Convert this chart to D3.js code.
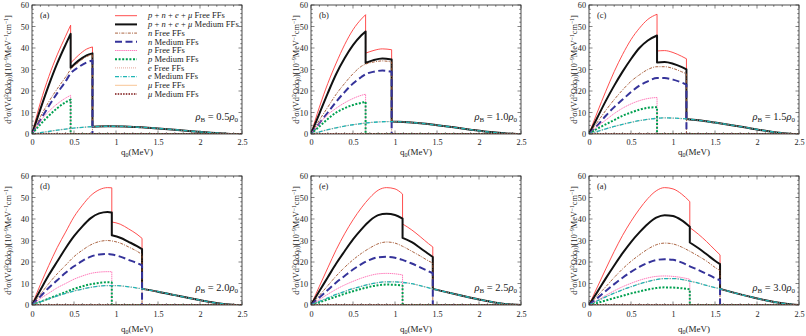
<!DOCTYPE html>
<html>
<head>
<meta charset="utf-8">
<script src="https://cdn.jsdelivr.net/npm/d3@7"></script>
<style>
  body { margin: 0; background: #fff; }
  svg { display: block; font-family: "Liberation Serif", "DejaVu Serif", serif; }
</style>
</head>
<body>
<svg id="chart" width="806" height="336"></svg>
<script>
// tick values and panel texts
const qTicks = [0, 0.5, 1, 1.5, 2, 2.5];
const yTicks = [0, 10, 20, 30, 40, 50, 60];
const panelTags = ['(a)', '(b)', '(c)', '(d)', '(e)', '(a)'];
const rhoValues = ['0.5', '1.0', '1.5', '2.0', '2.5', '3.0'];

// p + n + e + mu, free form factors (one list of [q0, value] per panel)
const totFree = [
  [[0,0],[0.1,14.6],[0.2,26.7],[0.3,36.8],[0.4,45.5],[0.46,50.6],[0.46,33],[0.55,36.5],[0.65,39.5],[0.72,40.5],[0.72,3.4],[0.9,3.6],[1.1,3.5],[1.3,3.1],[1.5,2.6],[1.7,2.0],[1.9,1.3],[2.1,0.7],[2.3,0.2],[2.45,0],[2.5,0]],
  [[0,0],[0.1,12.5],[0.2,23.5],[0.3,33],[0.4,41.5],[0.5,48.5],[0.6,53.5],[0.65,55.5],[0.65,37.6],[0.75,38.9],[0.85,39.6],[0.96,39.2],[0.96,5.8],[1.1,5.6],[1.3,5],[1.5,4.1],[1.7,3.1],[1.9,2],[2.1,1],[2.3,0.3],[2.45,0],[2.5,0]],
  [[0,0],[0.1,10.2],[0.2,19.9],[0.3,29],[0.4,37],[0.5,43.9],[0.6,49.2],[0.7,53.3],[0.81,55.7],[0.81,38.6],[0.9,38.8],[1.0,37.9],[1.1,36.2],[1.16,35],[1.16,7],[1.3,6.4],[1.5,5.3],[1.7,4.1],[1.9,2.8],[2.1,1.5],[2.3,0.4],[2.45,0],[2.5,0]],
  [[0,0],[0.1,9.5],[0.2,18.4],[0.3,26.7],[0.4,33.9],[0.5,41],[0.6,46.4],[0.7,50.9],[0.8,53.6],[0.9,54.6],[0.95,54.5],[0.95,38.6],[1.05,37.6],[1.15,35.4],[1.25,32.9],[1.31,31],[1.31,7.5],[1.5,6.2],[1.7,4.6],[1.9,3],[2.1,1.5],[2.3,0.4],[2.45,0],[2.5,0]],
  [[0,0],[0.1,8.7],[0.2,17.3],[0.3,25.7],[0.4,33.1],[0.5,39.6],[0.6,45.2],[0.7,49.9],[0.8,53.4],[0.9,54.6],[1.0,54],[1.09,51.6],[1.09,37.7],[1.2,34.9],[1.3,31.8],[1.4,28.5],[1.45,27],[1.45,7.5],[1.6,6.1],[1.8,4.3],[2.0,2.6],[2.2,1.1],[2.35,0.3],[2.5,0]],
  [[0,0],[0.1,8.4],[0.2,16.8],[0.3,24.9],[0.4,32.4],[0.5,38.9],[0.6,44.6],[0.7,49.5],[0.8,53.1],[0.9,54.6],[1.0,54],[1.1,51.7],[1.2,48.1],[1.2,36],[1.3,33],[1.4,29.5],[1.5,25.6],[1.56,23.3],[1.56,7.5],[1.7,6],[1.9,4],[2.1,2.2],[2.3,0.8],[2.45,0.1],[2.5,0]]
];

// p + n + e + mu, medium modified form factors
const totMed = [
  [[0,0],[0.1,11.6],[0.2,22.7],[0.3,32.8],[0.4,41.6],[0.46,46.6],[0.46,30.8],[0.55,34],[0.65,36.6],[0.72,37.5],[0.72,3.4],[0.9,3.6],[1.1,3.5],[1.3,3.1],[1.5,2.6],[1.7,2.0],[1.9,1.3],[2.1,0.7],[2.3,0.2],[2.45,0],[2.5,0]],
  [[0,0],[0.1,9.5],[0.2,19],[0.3,27.9],[0.4,35.2],[0.5,41.3],[0.6,45.9],[0.65,47.7],[0.65,33],[0.75,34.4],[0.85,35.1],[0.96,34.7],[0.96,5.8],[1.1,5.6],[1.3,5],[1.5,4.1],[1.7,3.1],[1.9,2],[2.1,1],[2.3,0.3],[2.45,0],[2.5,0]],
  [[0,0],[0.1,7.7],[0.2,15.4],[0.3,22.5],[0.4,29],[0.5,34.9],[0.6,40],[0.7,43.5],[0.81,45.8],[0.81,33.3],[0.9,33.5],[1.0,32.7],[1.1,31.2],[1.16,30],[1.16,7],[1.3,6.4],[1.5,5.3],[1.7,4.1],[1.9,2.8],[2.1,1.5],[2.3,0.4],[2.45,0],[2.5,0]],
  [[0,0],[0.1,7],[0.2,13.9],[0.3,20.2],[0.4,26.4],[0.5,32],[0.6,36.6],[0.7,40.4],[0.8,42.6],[0.9,43.3],[0.95,43],[0.95,32.4],[1.05,31.3],[1.15,29.4],[1.25,27.4],[1.31,26],[1.31,7.5],[1.5,6.2],[1.7,4.6],[1.9,3],[2.1,1.5],[2.3,0.4],[2.45,0],[2.5,0]],
  [[0,0],[0.1,6.5],[0.2,12.9],[0.3,19.3],[0.4,25],[0.5,30.5],[0.6,35.2],[0.7,39.2],[0.8,41.8],[0.9,42.4],[1.0,41.9],[1.09,40.2],[1.09,31.2],[1.2,29.2],[1.3,26.5],[1.4,23.7],[1.45,22.3],[1.45,7.5],[1.6,6.1],[1.8,4.3],[2.0,2.6],[2.2,1.1],[2.35,0.3],[2.5,0]],
  [[0,0],[0.1,6.1],[0.2,12.4],[0.3,18.4],[0.4,24.1],[0.5,29.3],[0.6,33.8],[0.7,37.7],[0.8,40.6],[0.9,41.8],[1.0,41.4],[1.1,39.5],[1.2,36.4],[1.2,29.1],[1.3,26.5],[1.4,23.6],[1.5,20.6],[1.56,19],[1.56,7.5],[1.7,6],[1.9,4],[2.1,2.2],[2.3,0.8],[2.45,0.1],[2.5,0]]
];

// neutron contribution, free / medium
const nFree = [
  [[0,0],[0.1,8],[0.2,15],[0.3,21],[0.4,26.5],[0.46,30],[0.55,33.2],[0.65,36],[0.72,37],[0.72,0],[2.5,0]],
  [[0,0],[0.1,6.5],[0.2,12.5],[0.3,18.5],[0.4,23.5],[0.5,28],[0.6,31.5],[0.65,32.5],[0.75,33.5],[0.85,34],[0.96,33.5],[0.96,0],[2.5,0]],
  [[0,0],[0.1,5.5],[0.2,11],[0.3,16],[0.4,20.5],[0.5,24.5],[0.6,27.5],[0.7,30],[0.81,31.3],[0.9,31.3],[1.0,30.5],[1.1,29],[1.16,28],[1.16,0],[2.5,0]],
  [[0,0],[0.1,5],[0.2,10],[0.3,14.5],[0.4,18.5],[0.5,22.5],[0.6,25.5],[0.7,28],[0.8,29.5],[0.9,30],[0.95,29.8],[1.05,28.8],[1.15,27],[1.25,25],[1.31,23.5],[1.31,0],[2.5,0]],
  [[0,0],[0.1,4.5],[0.2,9],[0.3,13.5],[0.4,17.5],[0.5,21],[0.6,24],[0.7,26.5],[0.8,28.5],[0.9,29.3],[1.0,28.8],[1.09,27.3],[1.2,25],[1.3,22.8],[1.4,20.5],[1.45,19.5],[1.45,0],[2.5,0]],
  [[0,0],[0.1,4.3],[0.2,8.5],[0.3,12.8],[0.4,16.8],[0.5,20.3],[0.6,23.3],[0.7,26],[0.8,28],[0.9,28.8],[1.0,28.4],[1.1,27],[1.2,25],[1.3,22.8],[1.4,20.4],[1.5,17.5],[1.56,16],[1.56,0],[2.5,0]]
];
const nMed = [
  [[0,0],[0.1,6.5],[0.2,13],[0.3,19],[0.4,24.5],[0.46,28.2],[0.55,31],[0.65,33.3],[0.72,34.2],[0.72,0],[2.5,0]],
  [[0,0],[0.1,5],[0.2,10],[0.3,15],[0.4,19.5],[0.5,23.5],[0.6,26.5],[0.65,27.8],[0.75,29],[0.85,29.5],[0.96,29],[0.96,0],[2.5,0]],
  [[0,0],[0.1,4],[0.2,8.5],[0.3,12.5],[0.4,16],[0.5,19.5],[0.6,22.5],[0.7,24.5],[0.81,26],[0.9,26],[1.0,25.3],[1.1,24],[1.16,23],[1.16,0],[2.5,0]],
  [[0,0],[0.1,4],[0.2,8],[0.3,11.5],[0.4,15],[0.5,18],[0.6,20.5],[0.7,22.5],[0.8,23.5],[0.9,23.7],[0.95,23.5],[1.05,22.5],[1.15,21],[1.25,19.5],[1.31,18.5],[1.31,0],[2.5,0]],
  [[0,0],[0.1,3.5],[0.2,7],[0.3,10.5],[0.4,13.5],[0.5,16.5],[0.6,19],[0.7,21],[0.8,22.2],[0.9,22.4],[1.0,22],[1.09,21],[1.2,19.3],[1.3,17.5],[1.4,15.7],[1.45,14.8],[1.45,0],[2.5,0]],
  [[0,0],[0.1,3.2],[0.2,6.5],[0.3,9.7],[0.4,12.7],[0.5,15.4],[0.6,17.7],[0.7,19.6],[0.8,20.9],[0.9,21.3],[1.0,21],[1.1,19.8],[1.2,18],[1.3,16.3],[1.4,14.5],[1.5,12.5],[1.56,11.5],[1.56,0],[2.5,0]]
];

// proton contribution, free / medium
const pFree = [
  [[0,0],[0.1,6],[0.2,10.5],[0.3,14],[0.4,16.7],[0.46,18],[0.46,0],[2.5,0]],
  [[0,0],[0.1,5],[0.2,9],[0.3,12],[0.4,14.5],[0.5,16.5],[0.6,18],[0.65,18.5],[0.65,0],[2.5,0]],
  [[0,0],[0.1,3.5],[0.2,6.5],[0.3,9.5],[0.4,12],[0.5,14],[0.6,15.5],[0.7,16.5],[0.81,17],[0.81,0],[2.5,0]],
  [[0,0],[0.1,3],[0.2,5.5],[0.3,8],[0.4,10],[0.5,12],[0.6,13.5],[0.7,14.7],[0.8,15.3],[0.9,15.5],[0.95,15.5],[0.95,0],[2.5,0]],
  [[0,0],[0.1,2.5],[0.2,5],[0.3,7.3],[0.4,9.3],[0.5,11],[0.6,12.5],[0.7,13.7],[0.8,14.5],[0.9,14.7],[1.0,14.5],[1.09,14],[1.09,0],[2.5,0]],
  [[0,0],[0.1,2.2],[0.2,4.5],[0.3,6.6],[0.4,8.5],[0.5,10.1],[0.6,11.5],[0.7,12.6],[0.8,13.3],[0.9,13.5],[1.0,13.3],[1.1,12.8],[1.2,12],[1.2,0],[2.5,0]]
];
const pMed = [
  [[0,0],[0.1,4.5],[0.2,8.5],[0.3,12],[0.4,14.8],[0.46,16],[0.46,0],[2.5,0]],
  [[0,0],[0.1,3.5],[0.2,7],[0.3,10],[0.4,12],[0.5,13.5],[0.6,14.5],[0.65,15],[0.65,0],[2.5,0]],
  [[0,0],[0.1,2.5],[0.2,4.5],[0.3,6.5],[0.4,8.5],[0.5,10],[0.6,11.3],[0.7,12.2],[0.81,12.5],[0.81,0],[2.5,0]],
  [[0,0],[0.1,1.5],[0.2,3],[0.3,4.5],[0.4,6],[0.5,7.5],[0.6,8.7],[0.7,9.7],[0.8,10.3],[0.9,10.6],[0.95,10.5],[0.95,0],[2.5,0]],
  [[0,0],[0.1,1.3],[0.2,2.6],[0.3,3.9],[0.4,5.2],[0.5,6.4],[0.6,7.5],[0.7,8.5],[0.8,9.2],[0.9,9.5],[1.0,9.4],[1.09,9],[1.09,0],[2.5,0]],
  [[0,0],[0.1,1],[0.2,2.1],[0.3,3.2],[0.4,4.3],[0.5,5.4],[0.6,6.3],[0.7,7.2],[0.8,7.9],[0.9,8.2],[1.0,8.1],[1.1,7.8],[1.2,7.3],[1.2,0],[2.5,0]]
];

// electron contribution (free and medium curves lie on top of each other)
const eVals = [
  [[0,0],[0.1,0.6],[0.2,1.2],[0.3,1.8],[0.4,2.3],[0.46,2.6],[0.6,3.1],[0.72,3.4],[0.9,3.6],[1.1,3.5],[1.3,3.1],[1.5,2.6],[1.7,2.0],[1.9,1.3],[2.1,0.7],[2.3,0.2],[2.45,0],[2.5,0]],
  [[0,0],[0.1,1],[0.2,2],[0.3,2.9],[0.4,3.7],[0.5,4.3],[0.65,5.1],[0.8,5.6],[0.96,5.8],[1.1,5.6],[1.3,5],[1.5,4.1],[1.7,3.1],[1.9,2],[2.1,1],[2.3,0.3],[2.45,0],[2.5,0]],
  [[0,0],[0.1,1.2],[0.2,2.4],[0.3,3.5],[0.4,4.5],[0.5,5.4],[0.6,6.2],[0.7,6.8],[0.81,7.3],[0.9,7.5],[1.0,7.4],[1.16,7],[1.3,6.4],[1.5,5.3],[1.7,4.1],[1.9,2.8],[2.1,1.5],[2.3,0.4],[2.45,0],[2.5,0]],
  [[0,0],[0.1,1.5],[0.2,2.9],[0.3,4.2],[0.4,5.4],[0.5,6.5],[0.6,7.4],[0.7,8.2],[0.8,8.8],[0.9,9],[1.0,9],[1.1,8.7],[1.2,8.2],[1.31,7.5],[1.5,6.2],[1.7,4.6],[1.9,3],[2.1,1.5],[2.3,0.4],[2.45,0],[2.5,0]],
  [[0,0],[0.1,1.7],[0.2,3.3],[0.3,4.9],[0.4,6.3],[0.5,7.6],[0.6,8.7],[0.7,9.7],[0.8,10.4],[0.9,10.8],[1.0,10.8],[1.09,10.5],[1.2,9.9],[1.3,9],[1.45,7.5],[1.6,6.1],[1.8,4.3],[2.0,2.6],[2.2,1.1],[2.35,0.3],[2.5,0]],
  [[0,0],[0.1,1.9],[0.2,3.8],[0.3,5.5],[0.4,7.1],[0.5,8.5],[0.6,9.8],[0.7,10.9],[0.8,11.8],[0.9,12.3],[1.0,12.3],[1.1,11.9],[1.2,11.1],[1.3,10.2],[1.4,9.1],[1.56,7.5],[1.7,6],[1.9,4],[2.1,2.2],[2.3,0.8],[2.45,0.1],[2.5,0]]
];

// muon contribution stays on the axis in every panel
const muVals = [
  [[0,0],[2.5,0]], [[0,0],[2.5,0]], [[0,0],[2.5,0]],
  [[0,0],[2.5,0]], [[0,0],[2.5,0]], [[0,0],[2.5,0]]
];

// legend: label pieces (1 = italic) and line style
const legendItems = [
  { parts: [['p',1],[' + ',0],['n',1],[' + ',0],['e',1],[' + ',0],['\u03bc',1],[' Free FFs',0]], color: '#ff3b3b', width: 0.9, dash: null, data: totFree },
  { parts: [['p',1],[' + ',0],['n',1],[' + ',0],['e',1],[' + ',0],['\u03bc',1],[' Medium FFs',0]], color: '#111111', width: 2, dash: null, data: totMed },
  { parts: [['n',1],[' Free FFs',0]], color: '#a0522d', width: 0.9, dash: '3,1.2,1,1.2', data: nFree },
  { parts: [['n',1],[' Medium FFs',0]], color: '#35339a', width: 2, dash: '7,3.5', data: nMed },
  { parts: [['p',1],[' Free FFs',0]], color: '#ff6fb4', width: 0.9, dash: '1.5,0.6', data: pFree },
  { parts: [['p',1],[' Medium FFs',0]], color: '#00a050', width: 2, dash: '2,1.6', data: pMed },
  { parts: [['e',1],[' Free FFs',0]], color: '#e19a8c', width: 0.9, dash: '1,1', data: eVals },
  { parts: [['e',1],[' Medium FFs',0]], color: '#1fb5b5', width: 1.3, dash: '4,1.5,1,1.5', data: eVals },
  { parts: [['\u03bc',1],[' Free FFs',0]], color: '#f7bf8a', width: 0.9, dash: null, data: muVals },
  { parts: [['\u03bc',1],[' Medium FFs',0]], color: '#7a1010', width: 1.6, dash: '1.5,1.2', data: muVals }
];

const svg = d3.select('#chart');
const colLeft = [32, 311, 589];
const rowTop = [5, 176];
const pw = 210, ph = 129;
const yLabelOff = [-24, -15, -15];
const xLabelOff = [21, 27];

// draw a series whose repeated q0 values mark vertical drops
function buildPath(pts, x, y) {
  const segs = [];
  let cur = [];
  pts.forEach((p, k) => {
    if (k > 0 && p[0] === pts[k - 1][0]) { segs.push(cur); cur = []; }
    cur.push(p);
  });
  segs.push(cur);
  const line = d3.line().x(d => x(d[0])).y(d => y(d[1])).curve(d3.curveMonotoneX);
  return segs.map((s, k) => { const d = line(s); return k ? d.replace(/^M/, 'L') : d; }).join('');
}

function richText(sel, parts) {
  parts.forEach(p => sel.append('tspan').attr('font-style', p[1] ? 'italic' : 'normal').text(p[0]));
}

for (let i = 0; i < 6; i++) {
  const row = Math.floor(i / 3), col = i % 3;
  const g = svg.append('g').attr('transform', `translate(${colLeft[col]},${rowTop[row]})`);
  const x = d3.scaleLinear().domain([0, 2.5]).range([0, pw]);
  const y = d3.scaleLinear().domain([0, 60]).range([ph, 0]);

  const clipId = 'clip' + i;
  g.append('clipPath').attr('id', clipId).append('rect').attr('width', pw).attr('height', ph);

  // ticks, pointing inward on all four sides
  const xMinor = d3.range(0, 2.5001, 0.1);
  const yMinor = d3.range(0, 60.001, 2);
  const tickG = g.append('g').attr('stroke', '#333').attr('stroke-width', 0.6);
  xMinor.forEach(v => {
    const major = qTicks.some(t => Math.abs(t - v) < 1e-6);
    const len = major ? 3.5 : 1.8;
    tickG.append('line').attr('x1', x(v)).attr('x2', x(v)).attr('y1', ph).attr('y2', ph - len);
    tickG.append('line').attr('x1', x(v)).attr('x2', x(v)).attr('y1', 0).attr('y2', len);
  });
  yMinor.forEach(v => {
    const major = yTicks.includes(v);
    const len = major ? 3.5 : 1.8;
    tickG.append('line').attr('y1', y(v)).attr('y2', y(v)).attr('x1', 0).attr('x2', len);
    tickG.append('line').attr('y1', y(v)).attr('y2', y(v)).attr('x1', pw).attr('x2', pw - len);
  });

  // tick labels via d3 axes, with their own lines hidden
  const xAxis = g.append('g').attr('transform', `translate(0,${ph})`)
    .call(d3.axisBottom(x).tickValues(qTicks).tickSize(0).tickPadding(row ? 6 : 5).tickFormat(d3.format('')));
  const yAxis = g.append('g')
    .call(d3.axisLeft(y).tickValues(yTicks).tickSize(0).tickPadding(3));
  [xAxis, yAxis].forEach(a => {
    a.select('.domain').remove();
    a.selectAll('text').attr('font-family', '"Liberation Serif", serif').attr('font-size', 8.2).attr('fill', '#222');
  });

  // curves, in legend order
  const curves = g.append('g').attr('clip-path', `url(#${clipId})`);
  legendItems.forEach(it => {
    curves.append('path')
      .attr('d', buildPath(it.data[i], x, y))
      .attr('fill', 'none')
      .attr('stroke', it.color)
      .attr('stroke-width', it.width)
      .attr('stroke-dasharray', it.dash)
      .attr('stroke-linejoin', 'round');
  });

  g.append('rect').attr('width', pw).attr('height', ph)
    .attr('fill', 'none').attr('stroke', '#222').attr('stroke-width', 0.8);

  g.append('text').attr('x', 8).attr('y', 13).attr('font-size', 8.5).attr('fill', '#222').text(panelTags[i]);

  // rho_B label
  const rho = g.append('text').attr('x', pw - 4).attr('y', 115).attr('text-anchor', 'end')
    .attr('font-size', 10.5).attr('fill', '#222');
  rho.append('tspan').attr('font-style', 'italic').text('\u03c1');
  rho.append('tspan').attr('font-size', 7).attr('dy', 2).text('B');
  rho.append('tspan').attr('dy', -2).text(' = ' + rhoValues[i]);
  rho.append('tspan').attr('font-style', 'italic').text('\u03c1');
  rho.append('tspan').attr('font-size', 7).attr('dy', 2).text('0');

  // axis titles
  const xl = g.append('text').attr('x', pw / 2).attr('y', ph + xLabelOff[row]).attr('text-anchor', 'middle')
    .attr('font-size', 9).attr('fill', '#222');
  xl.append('tspan').text('q');
  xl.append('tspan').attr('font-size', 6).attr('dy', 1.5).text('0');
  xl.append('tspan').attr('dy', -1.5).text('(MeV)');

  const yl = g.append('text').attr('transform', `translate(${yLabelOff[col]},${ph / 2}) rotate(-90)`)
    .attr('text-anchor', 'middle').attr('dy', '0.35em').attr('font-size', 8.3).attr('fill', '#222');
  const sup = t => yl.append('tspan').attr('font-size', 5.6).attr('dy', -3).text(t);
  const base = t => yl.append('tspan').attr('dy', 3).text(t);
  yl.append('tspan').text('d');
  sup('3');
  base('\u03c3/(Vd');
  sup('2');
  base('\u03a9dq');
  yl.append('tspan').attr('font-size', 5.6).attr('dy', 1.5).text('0');
  yl.append('tspan').attr('dy', -1.5).text(')[10');
  sup('\u22129');
  base('MeV');
  sup('\u22121');
  base('cm');
  sup('\u22121');
  base(']');

  // legend only in the first panel
  if (i === 0) {
    const lg = g.append('g');
    legendItems.forEach((it, k) => {
      const ly = 10.7 + k * 8.7;
      lg.append('line').attr('x1', 83).attr('x2', 105).attr('y1', ly).attr('y2', ly)
        .attr('stroke', it.color).attr('stroke-width', it.width).attr('stroke-dasharray', it.dash);
      const t = lg.append('text').attr('x', 116).attr('y', ly + 2.7).attr('font-size', 8.5)
        .attr('letter-spacing', 0.05).attr('fill', '#222');
      richText(t, it.parts);
    });
  }
}
</script>
</body>
</html>
